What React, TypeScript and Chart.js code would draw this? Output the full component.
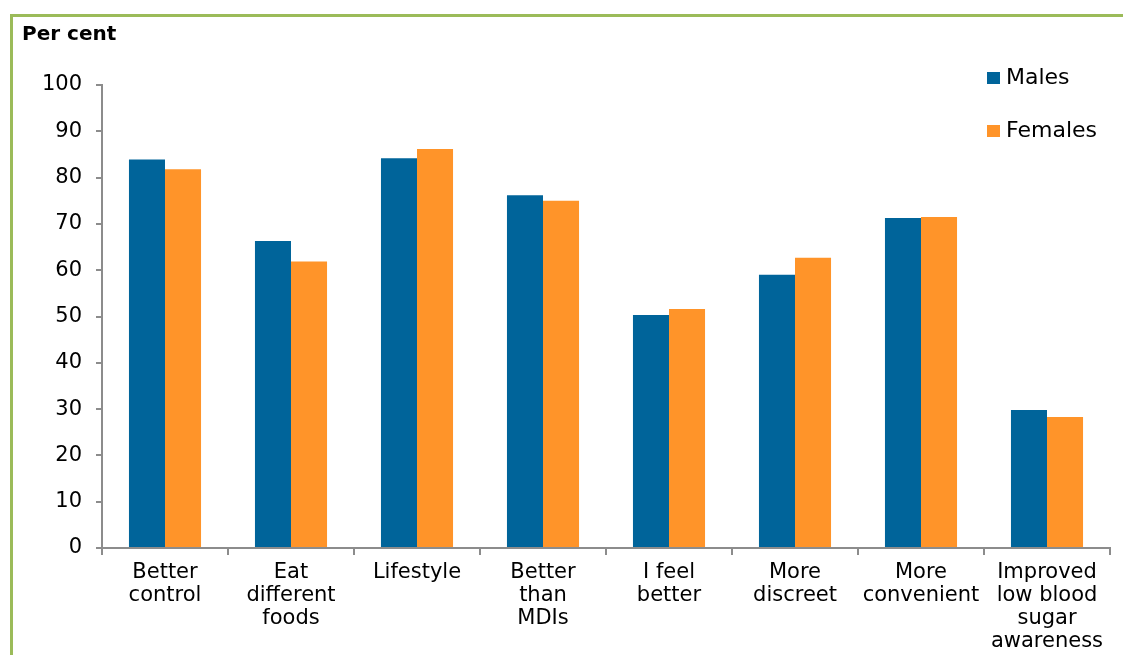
import React, { useEffect, useRef } from "react";
import { Chart, registerables } from "chart.js";

Chart.register(...registerables);

const categories: string[][] = [
  ["Better", "control"],
  ["Eat", "different", "foods"],
  ["Lifestyle"],
  ["Better", "than", "MDIs"],
  ["I feel", "better"],
  ["More", "discreet"],
  ["More", "convenient"],
  ["Improved", "low blood", "sugar", "awareness"],
];
const males: number[] = [83.9, 66.3, 84.2, 76.2, 50.3, 59.0, 71.3, 29.8];
const females: number[] = [81.8, 61.9, 86.2, 75.0, 51.6, 62.7, 71.5, 28.3];
const yTicks: number[] = [0, 10, 20, 30, 40, 50, 60, 70, 80, 90, 100];
const seriesNames: string[] = ["Males", "Females"];
const yAxisTitle = "Per cent";

const BLUE = "#00649A";
const ORANGE = "#FF9429";
const FONT = "'DejaVu Sans', 'Liberation Sans', Arial, sans-serif";

export default function App() {
  const ref = useRef<HTMLCanvasElement | null>(null);
  useEffect(() => {
    if (!ref.current) return;
    const overlay = {
      id: "overlay",
      afterDraw(chart: any) {
        const ctx = chart.ctx as CanvasRenderingContext2D;
        ctx.save();
        ctx.fillStyle = "#000";
        ctx.font = `bold 20px ${FONT}`;
        ctx.textBaseline = "middle";
        ctx.textAlign = "left";
        ctx.fillText(yAxisTitle, 22, 35);
        const colors = [BLUE, ORANGE];
        const ys = [78, 131];
        ctx.font = `22px ${FONT}`;
        seriesNames.forEach((n, i) => {
          ctx.fillStyle = colors[i];
          ctx.fillRect(987, ys[i] - 6, 13, 12);
          ctx.fillStyle = "#000";
          ctx.fillText(n, 1006, ys[i]);
        });
        ctx.restore();
      },
    };
    const chart = new Chart(ref.current, {
      type: "bar",
      data: {
        labels: categories,
        datasets: [
          { label: seriesNames[0], data: males, backgroundColor: BLUE, categoryPercentage: 0.572, barPercentage: 1 },
          { label: seriesNames[1], data: females, backgroundColor: ORANGE, categoryPercentage: 0.572, barPercentage: 1 },
        ],
      },
      options: {
        animation: false,
        responsive: false,
        layout: { padding: { left: 0, top: 85, right: 13, bottom: 0 } },
        plugins: { legend: { display: false }, tooltip: { enabled: false } },
        scales: {
          x: {
            grid: { offset: true, drawOnChartArea: false, tickLength: 7, color: "#8C8C8C", lineWidth: 2 },
            border: { color: "#8C8C8C", width: 2 },
            ticks: { color: "#000", font: { family: FONT, size: 21, lineHeight: 1.1 }, padding: 6, maxRotation: 0, autoSkip: false },
            afterFit: (s: any) => { s.height = 107; },
          },
          y: {
            min: 0,
            max: 100,
            afterBuildTicks: (s: any) => { s.ticks = yTicks.map((v) => ({ value: v })); },
            grid: { drawOnChartArea: false, tickLength: 6, color: "#8C8C8C", lineWidth: 2 },
            border: { color: "#8C8C8C", width: 2 },
            ticks: { color: "#000", font: { family: FONT, size: 21 }, padding: 14 },
            afterFit: (s: any) => { s.width = 102; },
          },
        },
      },
      plugins: [overlay],
    });
    return () => chart.destroy();
  }, []);
  return (
    <div style={{ position: "fixed", left: 0, top: 0, width: 1123, height: 655, background: "#fff" }}>
      <div style={{ position: "absolute", left: 10, top: 14, right: 0, bottom: -10, borderTop: "3px solid #9BBB59", borderLeft: "3px solid #9BBB59" }} />
      <canvas ref={ref} width={1123} height={655} style={{ position: "absolute", left: 0, top: 0 }} />
    </div>
  );
}
